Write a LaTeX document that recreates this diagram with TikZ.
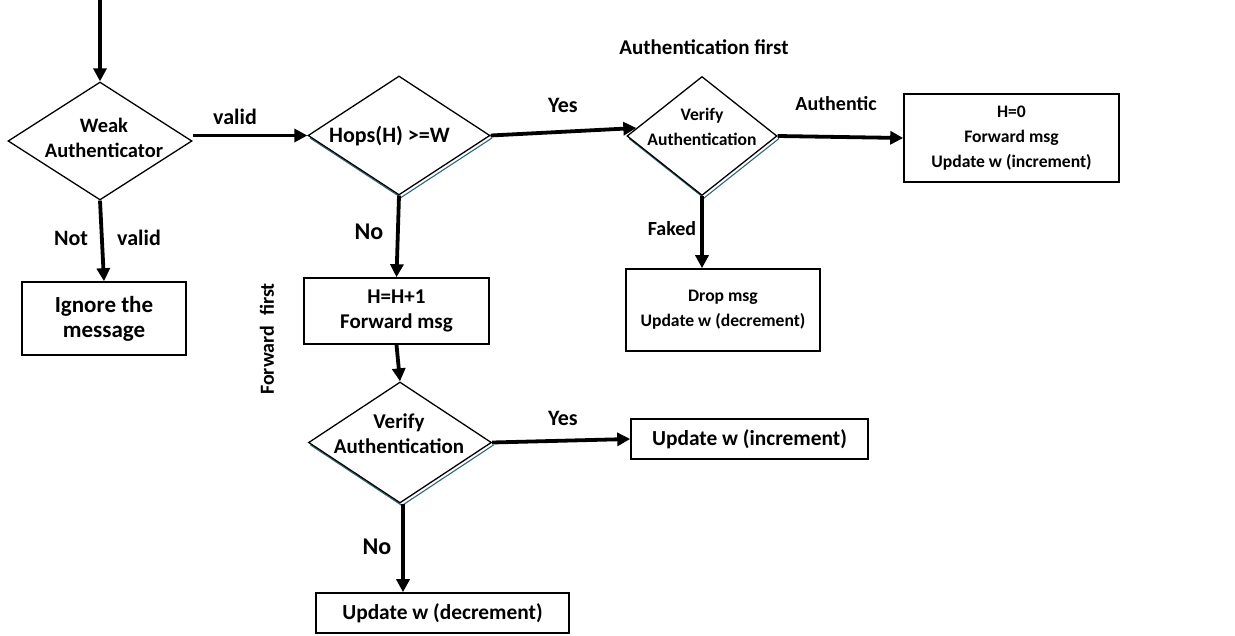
\documentclass[tikz,border=0pt]{standalone}
\usepackage{fontspec}
\setmainfont{Carlito}
\usetikzlibrary{shapes.geometric,arrows.meta,calc}
\newcommand\myfs[1]{\fontsize{#1}{25}\selectfont\bfseries}
\definecolor{shadowteal}{RGB}{49,104,118}
\begin{document}
\begin{tikzpicture}[x=1pt,y=-1pt,
  dia/.style={diamond, draw, line width=1.3pt, inner sep=0pt, fill=white},
  dtxt/.style={align=center, inner sep=0pt},
  box/.style={rectangle, draw, line width=1.6pt, align=center, inner sep=0pt},
  lbl/.style={inner sep=0pt, font=\myfs{22}},
  arr/.style={line width=3.8pt, -{Triangle[length=13pt,width=13pt]}},
  shd/.style={draw=shadowteal, line width=1.1pt}]
\useasboundingbox[fill=white] (0,0) rectangle (1235,635);

% shadows
\draw[shd] ([shift={(2,2.5)}]308,135.5) -- ([shift={(2,2.5)}]399,195) -- ([shift={(2,2.5)}]490,135.5);
\draw[shd] ([shift={(2,2.5)}]627,136) -- ([shift={(2,2.5)}]702,195.5) -- ([shift={(2,2.5)}]777,136);
\draw[shd] ([shift={(2,2.5)}]308.5,442.5) -- ([shift={(2,2.5)}]400,503) -- ([shift={(2,2.5)}]491.5,442.5);

% diamonds
\node[dia, minimum width=184pt, minimum height=118pt] (d1) at (100,141) {};
\node[dtxt, font=\myfs{20.5}] (d1t) at (104,138) {Weak\\Authenticator};
\node[dia, minimum width=182pt, minimum height=119pt] (d2) at (399,135.5) {};
\node[dtxt, font=\myfs{22}] (d2t) at (389.5,136) {Hops(H) >=W};
\node[dia, minimum width=150pt, minimum height=119pt] (d3) at (702,136) {};
\node[dtxt, font=\myfs{17.6}] (d3t) at (702,127) {Verify\\Authentication};
\node[dia, minimum width=183pt, minimum height=121pt] (d4) at (400,442.5) {};
\node[dtxt, font=\myfs{21}] (d4t) at (399,433.5) {Verify\\Authentication};

% boxes
\node[box, minimum width=164pt, minimum height=73pt, font=\myfs{23}] (ign) at (104,318.5) {Ignore the\\message};
\node[box, minimum width=185pt, minimum height=66pt, font=\myfs{21}] (hh) at (396.5,311) {H=H+1\\Forward msg};
\node[box, minimum width=194pt, minimum height=82pt, font=\myfs{17.6}] (drop) at (723,310) {Drop msg\\Update w (decrement)};
\node[box, minimum width=215pt, minimum height=88pt, font=\myfs{17.6}] (h0) at (1011.5,138) {H=0\\Forward msg\\Update w (increment)};
\node[box, minimum width=237pt, minimum height=40pt, font=\myfs{21.4}] (incr) at (749.5,439) {Update w (increment)};
\node[box, minimum width=253pt, minimum height=40pt, font=\myfs{21.4}] (decr) at (442.5,613) {Update w (decrement)};

% connectors
\coordinate (start) at (100,0);
\draw[arr] (start) -- (d1.north);
\draw[arr] (d1.east |- d2.west) -- (d2.west);
\draw[arr] (d2.east) -- ([shift={(10,-8)}]d3.west);
\draw[arr] (d3.east) -- (h0.west);
\draw[arr] (d1.south) -- (ign.north);
\draw[arr] (d2.south) -- (hh.north);
\draw[arr] (d3.south) -- (d3.south |- drop.north);
\draw[arr] (hh.south) -- (d4.north);
\draw[arr] (d4.east) -- (incr.west);
\draw[arr] ([xshift=3pt]d4.south) -- ([xshift=3pt]d4.south |- decr.north);

% labels
\node[lbl] (lvalid) at (235,117) {valid};
\node[lbl] (lnot) at (71,238) {Not};
\node[lbl] (lnvalid) at (139,238) {valid};
\node[lbl] (lyes1) at (563,105) {Yes};
\node[lbl, font=\myfs{21}] (lauthfirst) at (704,47) {Authentication first};
\node[lbl, font=\myfs{20}] (lauthentic) at (836,104) {Authentic};
\node[lbl, font=\myfs{20}] (lfaked) at (672,229) {Faked};
\node[lbl, font=\myfs{24}] (lno1) at (369,232) {No};
\node[lbl, font=\myfs{20}, rotate=90] (lfwdfirst) at (267,339) {Forward\hspace{0.5em}first};
\node[lbl] (lyes2) at (563,418) {Yes};
\node[lbl, font=\myfs{24}] (lno2) at (377,547) {No};
\end{tikzpicture}
\end{document}
